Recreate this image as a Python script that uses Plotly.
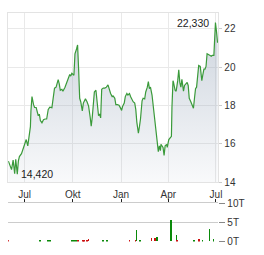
import plotly.graph_objects as go

# ---- price data (EUR) ----
dates = [
"2024-05-31","2024-06-06","2024-06-09","2024-06-12","2024-06-14","2024-06-17","2024-06-19","2024-06-21","2024-06-25","2024-06-27",
"2024-07-01","2024-07-04","2024-07-07","2024-07-10","2024-07-12","2024-07-13","2024-07-15","2024-07-18","2024-07-20","2024-07-23",
"2024-07-25","2024-07-27","2024-07-29","2024-07-31","2024-08-03","2024-08-06","2024-08-09","2024-08-12","2024-08-15","2024-08-18",
"2024-08-22","2024-08-25","2024-08-27","2024-08-30","2024-09-03","2024-09-05","2024-09-07","2024-09-10","2024-09-12","2024-09-16",
"2024-09-19","2024-09-21","2024-09-25","2024-09-27","2024-09-29","2024-10-03","2024-10-05","2024-10-08","2024-10-10","2024-10-12",
"2024-10-14","2024-10-16","2024-10-19","2024-10-21","2024-10-25","2024-10-28","2024-10-31","2024-11-03","2024-11-05","2024-11-07",
"2024-11-09","2024-11-11","2024-11-14","2024-11-16","2024-11-19","2024-11-21","2024-11-23","2024-11-25","2024-11-28","2024-12-01",
"2024-12-04","2024-12-07","2024-12-10","2024-12-12","2024-12-15","2024-12-17","2024-12-20","2024-12-22","2024-12-25","2024-12-28",
"2024-12-30","2025-01-02","2025-01-04","2025-01-07","2025-01-09","2025-01-12","2025-01-14","2025-01-17","2025-01-19","2025-01-22",
"2025-01-24","2025-01-27","2025-01-29","2025-01-31","2025-02-03","2025-02-05","2025-02-07","2025-02-10","2025-02-12","2025-02-15",
"2025-02-17","2025-02-20","2025-02-22","2025-02-24","2025-02-26","2025-03-01","2025-03-03","2025-03-05","2025-03-08","2025-03-10",
"2025-03-13","2025-03-15","2025-03-17","2025-03-18","2025-03-22","2025-03-24","2025-03-26","2025-03-29","2025-03-30","2025-04-02",
"2025-04-04","2025-04-07","2025-04-08","2025-04-10","2025-04-11","2025-04-14","2025-04-16","2025-04-19","2025-04-21","2025-04-23",
"2025-04-25","2025-04-27","2025-04-30","2025-05-02","2025-05-05","2025-05-07","2025-05-09","2025-05-11","2025-05-14","2025-05-16",
"2025-05-19","2025-05-21","2025-05-23","2025-05-25","2025-05-27","2025-05-29","2025-06-01","2025-06-03","2025-06-04","2025-06-06",
"2025-06-08","2025-06-10","2025-06-12","2025-06-14","2025-06-17","2025-06-19","2025-06-22","2025-06-24","2025-06-27","2025-06-29",
"2025-06-30","2025-07-02","2025-07-04",
]
prices = [
15.10,14.66,15.16,14.45,15.20,14.42,15.10,15.34,15.49,15.65,
15.90,16.23,15.90,16.40,16.90,17.72,18.47,18.05,17.90,17.90,
17.64,17.47,17.55,17.22,17.10,17.26,17.30,17.30,17.80,17.92,
17.89,18.38,18.91,18.96,19.35,19.13,18.80,18.85,18.75,18.96,
19.18,19.30,19.62,19.54,19.68,19.58,20.70,20.95,21.16,19.87,
18.38,18.20,17.72,18.13,18.35,18.20,17.97,17.39,16.93,17.39,
17.89,18.71,18.80,18.38,17.47,17.56,17.36,18.85,18.91,18.91,
18.96,19.08,18.71,18.63,18.47,18.50,18.38,18.05,18.05,18.02,
17.92,17.75,17.97,18.13,18.47,18.63,18.55,18.63,18.47,18.30,
18.20,18.13,17.80,17.14,16.56,16.90,17.30,18.25,18.38,18.35,
18.71,18.96,19.25,18.88,18.96,18.55,18.05,17.80,17.06,16.40,
15.60,15.90,15.65,15.98,15.82,15.40,15.90,15.98,15.82,16.23,
16.31,16.40,17.89,19.30,19.21,18.80,18.75,19.30,19.87,19.21,
18.96,19.37,18.75,19.05,19.13,19.21,19.05,18.38,18.20,18.05,
17.86,18.38,18.88,18.96,19.62,20.09,20.04,19.62,19.30,19.62,
19.90,19.90,20.04,20.70,20.62,20.62,20.57,20.62,20.62,21.53,
22.33,21.86,21.28,
]

# ---- volume data (thousands of shares) ----
vol_dates = [
"2024-05-31","2024-07-31","2024-08-15","2024-08-19","2024-09-30","2024-10-04","2024-10-07","2024-10-11",
"2024-10-21","2024-10-23","2024-10-28","2024-10-31","2024-11-28","2024-12-05","2025-01-17","2025-01-29",
"2025-01-31","2025-02-06","2025-02-28","2025-03-07","2025-03-11","2025-04-07","2025-04-17","2025-04-18",
"2025-05-20","2025-05-30","2025-06-06","2025-06-19","2025-06-27",
]
vol_values = [
0.3,0.2,0.2,0.2,0.2,0.3,0.3,0.3,
0.3,0.3,0.3,0.6,0.2,0.2,0.3,0.3,
3.0,0.3,0.8,0.8,1.0,5.6,1.5,0.3,
0.3,0.5,0.3,3.2,0.5,
]
vol_dir = [
"down","up","up","up","up","up","up","down",
"down","down","down","down","up","up","down","down",
"up","up","down","down","up","up","up","down",
"up","down","up","up","up",
]

tick_vals = ["2024-07-01", "2024-10-01", "2025-01-01", "2025-04-01", "2025-07-01"]
tick_text = ["Jul", "Okt", "Jan", "Apr", "Jul"]
price_ticks = [14, 16, 18, 20, 22]
vol_ticks = [0, 5, 10]
vol_tick_text = ["0T", "5T", "10T"]

W, H = 264, 255
FONT = "Liberation Sans, Arial, sans-serif"
x_dom = [8.3 / W, 221.7 / W]
p_dom = [1 - 185 / H, 1 - 7.3 / H]
v_dom = [1 - 247 / H, 1 - 207 / H]
x_range = ["2024-05-30 14:00", "2025-07-05 12:00"]

fig = go.Figure()
fig.add_trace(go.Scatter(
    x=dates, y=prices, mode="lines",
    line=dict(color="#3a9a3a", width=1.2),
    fill="tozeroy",
    fillgradient=dict(type="vertical", start=14, stop=22.8,
                      colorscale=[[0, "rgba(150,165,185,0.04)"], [1, "rgba(150,165,185,0.50)"]]),
    xaxis="x", yaxis="y", hoverinfo="skip", showlegend=False,
))

colors = ["#0a8a0a" if d == "up" else "#cc1111" for d in vol_dir]
fig.add_trace(go.Bar(
    x=vol_dates, y=vol_values, marker=dict(color=colors, line=dict(width=0)),
    width=1.1 * 86400000, xaxis="x2", yaxis="y2", hoverinfo="skip", showlegend=False,
))

# annotations for max and min
imax = max(range(len(prices)), key=lambda i: prices[i])
imin = min(range(len(prices)), key=lambda i: prices[i])
fmt = lambda v: f"{v:.3f}".replace(".", ",")
fig.add_annotation(x=dates[imax], y=prices[imax], xref="x", yref="y",
                   text=fmt(prices[imax]), showarrow=False, xanchor="right", yanchor="middle",
                   xshift=-4, font=dict(family=FONT, size=10.5, color="#222"))
fig.add_annotation(x=dates[imin], y=prices[imin], xref="x", yref="y",
                   text=fmt(prices[imin]), showarrow=False, xanchor="left", yanchor="middle",
                   xshift=2, font=dict(family=FONT, size=10.5, color="#222"))

fig.update_layout(
    width=W, height=H, margin=dict(l=0, r=0, t=0, b=0),
    paper_bgcolor="white", plot_bgcolor="white",
    font=dict(family=FONT, size=10, color="#333"),
    xaxis=dict(domain=x_dom, type="date", range=x_range, tickvals=tick_vals, ticktext=tick_text,
               showticklabels=True, showgrid=True, gridcolor="#e9e9e9", gridwidth=1,
               showline=True, mirror=True, linecolor="#e3e3e3", linewidth=1, zeroline=False,
               ticks="", ticklabelstandoff=3,
               tickfont=dict(family=FONT, size=10, color="#333")),
    yaxis=dict(domain=p_dom, range=[14, 22.83], side="right", tickvals=price_ticks,
               showgrid=True, gridcolor="#e9e9e9", gridwidth=1,
               showline=True, mirror=True, linecolor="#e3e3e3", linewidth=1, zeroline=False,
               ticks="outside", ticklen=3, tickcolor="#cccccc",
               tickfont=dict(family=FONT, size=10, color="#333")),
    xaxis2=dict(domain=x_dom, type="date", range=x_range, anchor="y2", side="top",
                tickvals=tick_vals, showticklabels=False, showgrid=False,
                showline=True, linecolor="#cccccc", linewidth=1, zeroline=False,
                ticks="outside", ticklen=3, tickcolor="#222"),
    yaxis2=dict(domain=v_dom, range=[0, 10], side="right", anchor="x2", tickvals=vol_ticks,
                ticktext=vol_tick_text, showgrid=True, gridcolor="#cccccc", gridwidth=1,
                showline=False, zeroline=False, ticks="outside", ticklen=6, tickcolor="#888",
                tickfont=dict(family=FONT, size=10, color="#333")),
    bargap=0,
)

fig.write_html("out.html")
